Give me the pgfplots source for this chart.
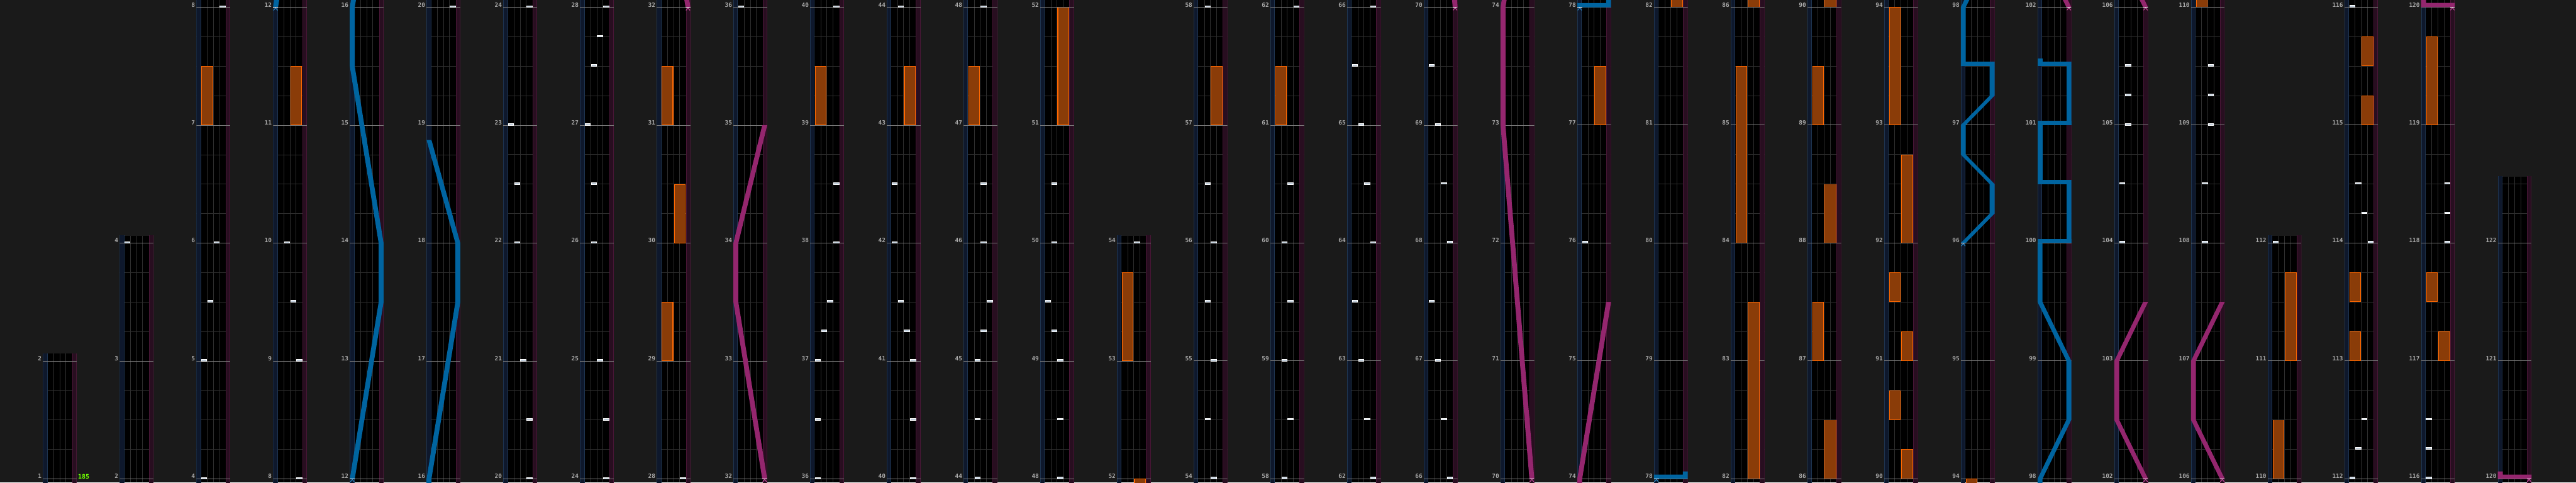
\documentclass[border=0pt]{standalone}
\usepackage{pgfplots}
\pgfplotsset{compat=1.18}
\usepackage{pgfplotstable}
\usepackage{fontspec}
\setmainfont{DejaVu Sans}
\newfontfamily\labfont{DejaVu Sans Mono}
\definecolor{bgc}{RGB}{26,26,26}
\definecolor{gridc}{RGB}{46,46,46}
\definecolor{mline}{RGB}{125,125,125}
\definecolor{labc}{RGB}{170,170,170}
\definecolor{bluelane}{RGB}{14,24,44}
\definecolor{blueedge}{RGB}{30,52,80}
\definecolor{pinklane}{RGB}{40,14,32}
\definecolor{pinkedge}{RGB}{72,22,54}
\definecolor{chipfill}{RGB}{190,205,220}
\definecolor{fxfill}{RGB}{138,60,8}
\definecolor{fxedge}{RGB}{255,104,0}
\definecolor{laserb}{RGB}{0,100,160}
\definecolor{laserp}{RGB}{148,38,110}
\definecolor{chevb}{RGB}{40,130,190}
\definecolor{chevp}{RGB}{190,70,150}
\definecolor{bpmc}{RGB}{110,255,0}

\pgfdeclareplotmark{chip}{%
  \pgfpathrectangle{\pgfpoint{-0.043cm}{0cm}}{\pgfpoint{0.086cm}{0.028cm}}%
  \pgfusepathqfillstroke}
\pgfdeclareplotmark{chev}{%
  \pgfpathmoveto{\pgfpoint{-0.033cm}{-0.05cm}}%
  \pgfpathlineto{\pgfpoint{0cm}{-0.008cm}}%
  \pgfpathlineto{\pgfpoint{0.033cm}{-0.05cm}}%
  \pgfusepathqstroke}
\pgfdeclareplotmark{starttick}{%
  \pgfpathmoveto{\pgfpoint{-0.038cm}{0cm}}%
  \pgfpathlineto{\pgfpoint{0.038cm}{0cm}}%
  \pgfusepathqstroke}

% BT chips: measure position, lane (1..4)
\pgfplotstableread{
t lane
4 1
5 1
5.5 2
6 3
8 4
9 4
9.5 3
10 2
20 4
20.5 4
21 3
22 2
22.5 2
23 1
24 4
24.5 4
25 3
26 2
26.5 2
27 1
27.5 2
27.75 3
28 4
36 1
36.5 1
37 1
37.25 2
37.5 3
38 4
38.5 4
40 4
40.5 4
41 4
41.25 3
41.5 2
42 1
42.5 1
44 2
44.5 2
45 2
45.25 3
45.5 4
46 3
46.5 3
48 3
48.5 3
49 3
49.25 2
49.5 1
50 2
50.5 2
54 3
54.5 2
55 3
55.5 2
56 3
56.5 2
58 2
58.5 3
59 2
59.5 3
60 2
60.5 3
62 4
62.5 3
63 2
63.5 1
64 4
64.5 3
65 2
65.5 1
66 4
66.5 3
67 2
67.5 1
68 4
68.5 3
69 2
69.5 1
76 1
104 1
104.5 1
105 2
105.25 2
105.5 2
108 2
108.5 2
109 3
109.25 3
109.5 3
112 1
112.25 2
112.5 3
114 4
114.25 3
114.5 2
116 1
116.25 1
116.5 1
118 4
118.25 4
118.5 4
}\chips

% FX holds: start, length, side (0 = left, 1 = right)
\pgfplotstableread{
t len side
7 0.5 0
11 0.5 1
29 0.5 0
30 0.5 1
31 0.5 0
39 0.5 0
43 0.5 1
47 0.5 0
51 1 1
53 0.75 0
57 0.5 1
61 0.5 0
77 0.5 1
82 1.5 1
84 1.5 0
86 0.5 1
87 0.5 0
88 0.5 1
89 0.5 0
90 0.25 1
90.5 0.25 0
91 0.25 1
91.5 0.25 0
92 0.75 1
93 1 0
110 0.5 0
111 0.75 1
113 0.25 0
113.5 0.25 0
115 0.25 1
115.5 0.25 1
117 0.25 1
117.5 0.25 0
119 0.75 0
}\fxtab

% laser start markers
\pgfplotstableread{
x t
4 12
4 78
4 96
}\chevblue
\pgfplotstableread{
x t
51 32
51 70
51 102
51 106
51 120
}\chevpink

\pgfplotstablenew[create on use/m/.style={create col/expr={\pgfplotstablerow+1}}, columns={m}]{123}\mtab

\pgfplotsset{
  colstyle/.style={
    scale only axis, width=0.55cm, anchor=south west,
    xmin=0, xmax=55,
    axis background/.style={fill=black},
    axis line style={draw=none},
    major tick length=0pt, minor tick length=0pt,
    xtick={17.5,27.5,37.5}, xticklabels={},
    ytick distance=1, minor y tick num=3, yticklabels={},
    xmajorgrids, yminorgrids,
    grid style={draw=gridc, line width=0.01cm},
    clip=true,
  },
  lb/.style={fill=laserb, draw=none},
  lp/.style={fill=laserp, draw=none},
}

\newcommand\stripcol[4]{% #1 left px, #2 first measure, #3 number of measures, #4 top extension px
  \pgfmathsetmacro\ymn{#2-6/192}%
  \pgfmathsetmacro\ymnfx{#2-2}%
  \pgfmathsetmacro\ymx{#2+#3+#4/192}%
  \pgfmathsetmacro\hh{(#3+(6+#4)/192)*1.92}%
  \begin{axis}[colstyle, at={(#1*0.01cm,0cm)}, ymin=\ymn, ymax=\ymx, height=\hh cm]
    % laser lanes
    \addplot[fill=bluelane, draw=none] coordinates {(0,0)(7.5,0)(7.5,200)(0,200)} -- cycle;
    \addplot[fill=pinklane, draw=none] coordinates {(47.5,0)(55,0)(55,200)(47.5,200)} -- cycle;
    \addplot[draw=blueedge, line width=0.01cm] coordinates {(0.5,0)(0.5,200)};
    \addplot[draw=blueedge, line width=0.01cm] coordinates {(7,0)(7,200)};
    \addplot[draw=pinkedge, line width=0.01cm] coordinates {(48,0)(48,200)};
    \addplot[draw=pinkedge, line width=0.01cm] coordinates {(54.5,0)(54.5,200)};
    % measure lines
    \addplot[draw=mline, line width=0.01cm, xcomb, mark=none, restrict y to domain=\ymn:\ymx]
      table[x expr=55, y=m] {\mtab};
    % FX holds
    \addplot[draw=none, mark=none, restrict y to domain=\ymnfx:\ymx,
      error bars/.cd, y dir=plus, y explicit, error mark=none,
      error bar style={draw=fxedge, line width=0.19cm}]
      table[x expr=17.5+20*\thisrow{side}, y=t, y error=len] {\fxtab};
    \addplot[draw=none, mark=none, restrict y to domain=\ymnfx:\ymx,
      error bars/.cd, y dir=plus, y explicit, error mark=none,
      error bar style={draw=fxfill, line width=0.167cm}]
      table[x expr=17.5+20*\thisrow{side}, y expr=\thisrow{t}+0.004,
            y error expr=\thisrow{len}-0.008] {\fxtab};
    % BT chips
    \addplot[only marks, mark=chip, mark options={fill=chipfill, draw=white, line width=0.005cm},
      restrict y to domain=\ymn:\ymx]
      table[x expr=2.5+10*\thisrow{lane}, y=t] {\chips};
    % lasers
    \addplot[lb] coordinates {
      (0,12) (47,13.5) (47,14) (0,15.5) (0,16) (47,17.5) (47,18) (0,18.875)
      (8,18.875) (55,18) (55,17.5) (8,16) (8,15.5) (55,14) (55,13.5) (8,12)} -- cycle;
    \addplot[lp] coordinates {
      (47,32) (0,33.5) (0,34) (47,35) (55,35) (8,34) (8,33.5) (55,32)} -- cycle;
    \addplot[lp] coordinates {
      (47,70) (0,73) (0,74) (47,75.5) (55,75.5) (8,74) (8,73) (55,70)} -- cycle;
    \addplot[lb] coordinates {
      (0,78) (55,78) (55,78.0625) (47,78.0625) (47,78.036) (0,78.036)} -- cycle;
    \addplot[lb] coordinates {
      (0,96) (47,96.25) (47,96.5) (0,96.75) (0,97) (47,97.25) (47,97.5)
      (55,97.5) (55,97.25) (8,97) (8,96.75) (55,96.5) (55,96.25) (8,96)} -- cycle;
    \addplot[lb] coordinates {(0,97.5) (55,97.5) (55,97.536) (0,97.536)} -- cycle;
    \addplot[lb] coordinates {
      (0,97.5) (0,98) (47,98.5) (47,99) (0,99.5) (0,100)
      (8,100) (8,99.5) (55,99) (55,98.5) (8,98) (8,97.5)} -- cycle;
    \addplot[lb] coordinates {(0,100) (55,100) (55,100.036) (0,100.036)} -- cycle;
    \addplot[lb] coordinates {(47,100) (55,100) (55,100.5) (47,100.5)} -- cycle;
    \addplot[lb] coordinates {(0,100.5) (55,100.5) (55,100.536) (0,100.536)} -- cycle;
    \addplot[lb] coordinates {(0,100.5) (8,100.5) (8,101) (0,101)} -- cycle;
    \addplot[lb] coordinates {(0,101) (55,101) (55,101.036) (0,101.036)} -- cycle;
    \addplot[lb] coordinates {(47,101) (55,101) (55,101.5) (47,101.5)} -- cycle;
    \addplot[lb] coordinates {(0,101.5) (55,101.5) (55,101.536) (0,101.536)} -- cycle;
    \addplot[lb] coordinates {(0,101.5) (8,101.5) (8,101.5625) (0,101.5625)} -- cycle;
    \addplot[lp] coordinates {
      (47,102) (0,102.5) (0,103) (47,103.5) (55,103.5) (8,103) (8,102.5) (55,102)} -- cycle;
    \addplot[lp] coordinates {
      (47,106) (0,106.5) (0,107) (47,107.5) (55,107.5) (8,107) (8,106.5) (55,106)} -- cycle;
    \addplot[lp] coordinates {
      (0,120) (55,120) (55,120.036) (8,120.036) (8,120.0625) (0,120.0625)} -- cycle;
    % laser start markers
    \addplot[only marks, mark=chev, mark options={draw=chevb, line width=0.012cm},
      restrict y to domain=\ymn:\ymx] table[x=x, y=t] {\chevblue};
    \addplot[only marks, mark=chev, mark options={draw=chevp, line width=0.012cm},
      restrict y to domain=\ymn:\ymx] table[x=x, y=t] {\chevpink};
    \addplot[only marks, mark=starttick, mark options={draw=white, line width=0.015cm},
      restrict y to domain=\ymn:\ymx] table[x=x, y=t] {\chevblue};
    \addplot[only marks, mark=starttick, mark options={draw=white, line width=0.015cm},
      restrict y to domain=\ymn:\ymx] table[x=x, y=t] {\chevpink};
  \end{axis}
  \foreach \i in {0,...,#3} {%
    \pgfmathtruncatemacro\mm{#2+\i}%
    \node[anchor=base east, inner sep=0pt, text=labc, font=\labfont\fontsize{2.75}{3}\selectfont\bfseries]
      at ({(#1-1.5)*0.01cm}, {(6+1+192*\i)*0.01cm}) {\mm};
  }%
}

\begin{document}
\begin{tikzpicture}
  \fill[bgc] (0,0) rectangle (41.95cm,7.86cm);
  \stripcol{70}{1}{1}{12}
  \stripcol{195}{2}{2}{12}
  \stripcol{320}{4}{4}{12}
  \stripcol{445}{8}{4}{12}
  \stripcol{570}{12}{4}{12}
  \stripcol{695}{16}{4}{12}
  \stripcol{820}{20}{4}{12}
  \stripcol{945}{24}{4}{12}
  \stripcol{1070}{28}{4}{12}
  \stripcol{1195}{32}{4}{12}
  \stripcol{1320}{36}{4}{12}
  \stripcol{1445}{40}{4}{12}
  \stripcol{1570}{44}{4}{12}
  \stripcol{1695}{48}{4}{12}
  \stripcol{1820}{52}{2}{12}
  \stripcol{1945}{54}{4}{12}
  \stripcol{2070}{58}{4}{12}
  \stripcol{2195}{62}{4}{12}
  \stripcol{2320}{66}{4}{12}
  \stripcol{2445}{70}{4}{12}
  \stripcol{2570}{74}{4}{12}
  \stripcol{2695}{78}{4}{12}
  \stripcol{2820}{82}{4}{12}
  \stripcol{2945}{86}{4}{12}
  \stripcol{3070}{90}{4}{12}
  \stripcol{3195}{94}{4}{12}
  \stripcol{3320}{98}{4}{12}
  \stripcol{3445}{102}{4}{12}
  \stripcol{3570}{106}{4}{12}
  \stripcol{3695}{110}{2}{12}
  \stripcol{3820}{112}{4}{12}
  \stripcol{3945}{116}{4}{12}
  \stripcol{4070}{120}{2}{108}
  \node[anchor=base west, inner sep=0pt, text=bpmc, font=\labfont\fontsize{2.9}{3}\selectfont\bfseries]
    at (1.265cm, 0.06cm) {185};
  \pgfresetboundingbox
  \path[use as bounding box] (0,0) rectangle (41.95cm,7.86cm);
\end{tikzpicture}
\end{document}
